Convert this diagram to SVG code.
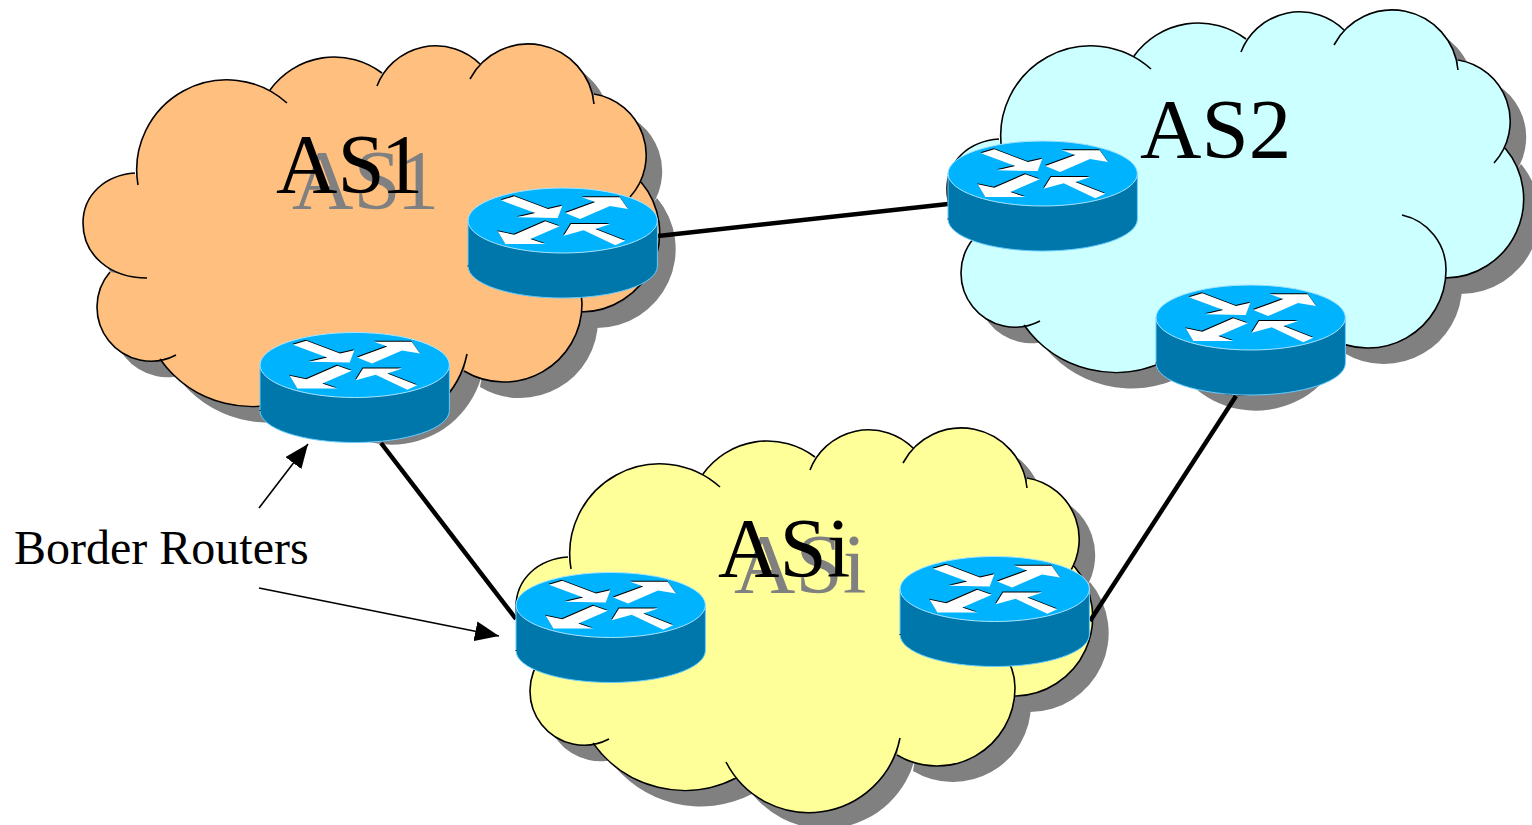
<svg xmlns="http://www.w3.org/2000/svg" width="1532" height="825" viewBox="0 0 1532 825">
<style>
.shadow{fill:#808080}
.outline{fill:none;stroke:#000;stroke-width:1.6}
.as1{fill:#FFBF7F}.as2{fill:#CCFFFF}.asi{fill:#FFFF99}
.big{font-family:"Liberation Serif","Times New Roman",serif;font-size:85px;fill:#000}
.big.echo{fill:#808080}
.note{font-family:"Liberation Serif","Times New Roman",serif;font-size:48px;fill:#000}
.link{stroke:#000;stroke-width:4.5;fill:none}
.pointer{stroke:#000;stroke-width:1.6;fill:none;marker-end:url(#head)}
.side{fill:#0077AA;stroke:#66CCFF;stroke-width:1}
.top{fill:#00B3FF;stroke:#A6E4FF;stroke-width:1}
</style>
<defs>
<marker id="head" viewBox="0 0 24 20" refX="24" refY="10" markerWidth="24" markerHeight="20" markerUnits="userSpaceOnUse" orient="auto"><path d="M0,0L24,10L0,20Z" fill="#000"/></marker>
<path id="cloud-fill" d="M138,185A90,90 0 0 1 287,103L270,90A79,79 0 0 1 382,73L377,86A63,63 0 0 1 480,64L470,79A66,66 0 0 1 594,104L594,94A62,62 0 0 1 630,197L641,182A79,79 0 0 1 581,312L538,249A56,56 0 0 1 582,304A78,78 0 0 1 464,371L467,354A93,93 0 0 1 293,378L303,394A112,112 0 0 1 160,359L176,355A54,54 0 0 1 110,272L147,278C110,278 83,255 83,223C83,195 105,175 135,173Z"/>
<path id="cloud-line" d="M138,185A90,90 0 0 1 287,103M270,90A79,79 0 0 1 382,73M377,86A63,63 0 0 1 480,64M470,79A66,66 0 0 1 594,104M594,94A62,62 0 0 1 630,197M641,182A79,79 0 0 1 581,312M538,249A56,56 0 0 1 582,304A78,78 0 0 1 464,371M467,354A93,93 0 0 1 293,378M303,394A112,112 0 0 1 160,359M176,355A54,54 0 0 1 110,272M147,278C110,278 83,255 83,223C83,195 105,175 135,173"/>
<g id="arrows">
<path d="M33,12.3L46.3,8.3L80,21L94.3,17.7L89.7,30L49,29.3L67.3,25Z"/>
<path d="M97.3,25L127.3,14L114,9.3L151.7,9.3L160,21L142,18L112,31Z"/>
<path d="M29.7,43.3L46.3,46.7L77.3,33.3L91.7,38.3L62.3,51L77.3,56L37.3,56Z"/>
<path d="M95.7,47.7L103,36L142.3,36L127.3,41L157.3,52.7L147.3,57.3L115.7,42.3Z"/>
</g>
<g id="router">
<path class="side" d="M0,32.5V78C0,96 42.4,110 94.7,110C147,110 189.4,96 189.4,78V32.5Z"/>
<ellipse class="top" cx="94.7" cy="32.5" rx="94.7" ry="32.5"/>
<use href="#arrows" fill="#000" transform="translate(-0.5,-1)"/>
<use href="#arrows" fill="#fff"/>
<path d="M-0.5,78H0.5" stroke="#000" stroke-width="1"/>
</g>
</defs>
<g id="cloud-as1">
<use href="#cloud-fill" class="shadow" transform="translate(16,16)"/>
<use href="#cloud-fill" class="as1"/>
<use href="#cloud-line" class="outline"/>
</g>
<g id="cloud-as2" transform="translate(864,-34)">
<use href="#cloud-fill" class="shadow" transform="translate(16,16)"/>
<use href="#cloud-fill" class="as2"/>
<use href="#cloud-line" class="outline"/>
</g>
<g id="cloud-asi" transform="translate(433,384)">
<use href="#cloud-fill" class="shadow" transform="translate(16,16)"/>
<use href="#cloud-fill" class="asi"/>
<use href="#cloud-line" class="outline"/>
</g>
<g id="labels-as">
<text class="big echo" x="292" y="209">AS<tspan dx="-4">1</tspan></text>
<text class="big" x="276" y="193">AS<tspan dx="-4">1</tspan></text>
<text class="big" x="1140" y="158">AS2</text>
<text class="big echo" x="734" y="593">ASi</text>
<text class="big" x="718" y="577">ASi</text>
</g>
<g id="connectors">
<path class="link" d="M658,236L948,204"/>
<path class="link" d="M381,443L516,619"/>
<path class="link" d="M1236,396L1090,621"/>
<path class="pointer" d="M259,508L308,444"/>
<path class="pointer" d="M259,588L499,636"/>
</g>
<g id="router-as1-east"><use href="#router" transform="translate(468,188)"/></g>
<g id="router-as1-south"><use href="#router" transform="translate(260,332.5)"/></g>
<g id="router-as2-west"><use href="#router" transform="translate(948,141)"/></g>
<g id="router-as2-south"><use href="#router" transform="translate(1156,285)"/></g>
<g id="router-asi-west"><use href="#router" transform="translate(516,572.5)"/></g>
<g id="router-asi-east"><use href="#router" transform="translate(900,556.5)"/></g>
<g id="label-border"><text class="note" x="14" y="564">Border Routers</text></g>
</svg>
